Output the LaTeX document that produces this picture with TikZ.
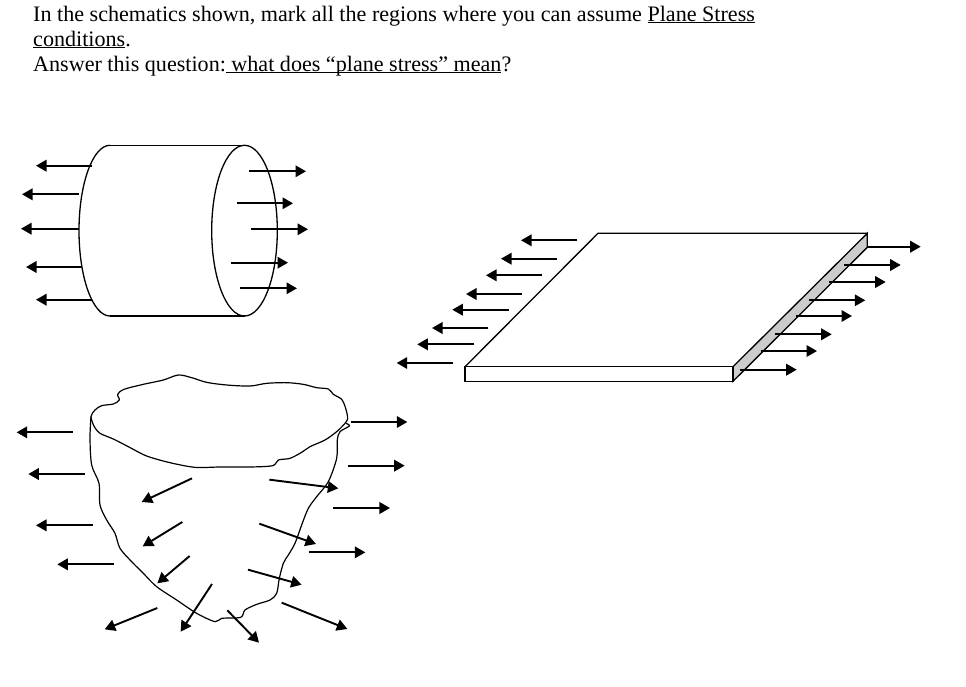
\documentclass[tikz,border=0pt]{standalone}
\usepackage{fontspec}
\setmainfont{Liberation Serif}
\usetikzlibrary{arrows.meta}
\newcommand\ulx[1]{\leavevmode\setbox0\hbox{#1}\rlap{\rule[-2.2pt]{\wd0}{0.9pt}}\box0}
\tikzset{
  force/.style={-{Triangle[length=10.5pt,width=11.5pt]},line width=1.9pt,black},
  outline/.style={line width=1.3pt,black},
  rough/.style={line width=1.2pt,black},
  textline/.style={anchor=base west,inner sep=0pt,font=\fontsize{22.1}{25}\selectfont}
}
\begin{document}
\begin{tikzpicture}[x=1pt,y=-1pt]
\useasboundingbox[fill=white] (0,0) rectangle (966,686);
% text
\node[textline] (l1) at (33,21) {In the schematics shown, mark all the regions where you can assume \ulx{Plane Stress}};
\node[textline] (l2) at (33,46) {\ulx{conditions}.};
\node[textline] (l3) at (33,71) {Answer this question:\ulx{\ what does “plane stress” mean}?};
% cylinder
\draw[outline] (110,145.3) -- (244.5,145.3);
\draw[outline] (110,316) -- (244.5,316);
\draw[outline] (110,145.3) arc[start angle=-90,end angle=-270,x radius=31,y radius=85.35];
\draw[outline] (244.5,230.65) ellipse[x radius=32.8,y radius=85.35];
\foreach \y/\a/\b in {165.7/92/36,194.3/79/22,228.7/79/21,267/82/26,299.7/92/36,
  171.3/249/306,203.3/237/293,229.3/251/308,262.7/231/288,288.3/240/297}
  \draw[force] (\a,\y) -- (\b,\y);
% plate
\draw[outline,fill=black!20] (733,366.7) -- (867.3,233.3) -- (867.3,247.3) -- (733,381.3) -- cycle;
\draw[outline] (465,366.7) -- (598,233.3) -- (867.3,233.3);
\draw[outline] (465,366.7) rectangle (733,381.3);
\foreach \y/\a/\b in {246.7/867/920.7,265/844/900.7,282/829.3/885.7,300.3/809/865.3,316/795.7/852,
  334.3/775.3/831.7,351/760.7/817,369.7/740.3/796.7,
  240.3/577.3/521,258.7/557/501,275.3/542.3/486,294/522/466,309.7/508.7/452.3,328/488.3/432,344.3/473.7/417.3,363/453.3/396.7}
  \draw[force] (\a,\y) -- (\b,\y);
% rough body
\begin{scope}[shift={(0,365)},x=0.33333pt,y=-0.33333pt]
\draw[rough] plot[smooth cycle,tension=0.5] coordinates {(273,155)(285,135)(305,122)(340,117)(358,105)(353,88)(372,73)(430,58)(490,45)(535,30)(575,38)(620,52)(680,60)(750,63)(800,55)(860,53)(910,58)(950,68)(985,72)(1000,88)(1025,103)(1037,130)(1043,160)(1035,175)(1010,200)(975,225)(930,245)(905,262)(870,280)(835,285)(818,302)(750,306)(660,306)(585,307)(510,293)(440,273)(385,245)(340,222)(300,205)(283,185)};
\draw[rough] plot[smooth,tension=0.5] coordinates {(273,155)(270,220)(275,300)(297,355)(300,420)(320,465)(345,505)(360,550)(395,590)(430,625)(470,665)(530,705)(590,745)(645,770)(665,760)(722,757)(735,735)(770,718)(810,705)(830,685)(838,640)(850,595)(865,570)(885,535)(905,480)(925,430)(950,395)(985,350)(1010,280)(1012,225)(1020,200)(1048,183)(1038,175)};
\foreach \ax/\ay/\bx/\by in {219/202/50/202,254/327/85/327,278/481/108/481,341/598/172/598,
  1052/171/1222/171,1044/302/1214/302,1000/429/1170/429,926/562/1096/562,
  576/340/425/411,808/344/1015/370,547/471/428/544,778/476/948/537,569/573/472/655,744/614/905/659,
  636/657/542/800,472/729/314/793,682/736/777/833,845/713/1042/792}
  \draw[force] (\ax,\ay) -- (\bx,\by);
\end{scope}
\end{tikzpicture}
\end{document}
